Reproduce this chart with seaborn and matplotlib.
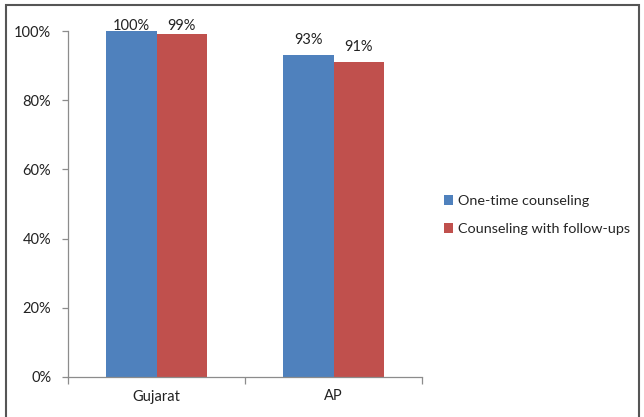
import matplotlib
matplotlib.use("Agg")
import matplotlib.pyplot as plt
import seaborn as sns
import pandas as pd
from matplotlib.patches import Rectangle
from matplotlib.ticker import FuncFormatter, FixedLocator

states = ["Gujarat", "AP"]
series = ["One-time counseling", "Counseling with follow-ups"]
one_time = [1.00, 0.93]
follow_ups = [0.99, 0.91]
colors = ["#4F81BD", "#C0504D"]

df = pd.DataFrame({
    "State": states * 2,
    "Group": [series[0]] * 2 + [series[1]] * 2,
    "Share": one_time + follow_ups,
})

sns.set_style("white")
plt.rcParams["font.family"] = ["Lato", "DejaVu Sans"]

fig = plt.figure(figsize=(6.44, 4.17), dpi=100)
ax = fig.add_axes([68 / 644, 1 - 377 / 417, (422 - 68) / 644, (377 - 31) / 417])

sns.barplot(data=df, x="State", y="Share", hue="Group", palette=colors,
            width=0.57, saturation=1, linewidth=0, ax=ax, legend=True)

# value labels above each bar, kept just inside the top of the plot area
for container in ax.containers:
    for bar in container:
        h = bar.get_height()
        ax.text(bar.get_x() + bar.get_width() / 2, min(h + 0.043, 1.0145),
                f"{round(h * 100)}%", ha="center", va="center",
                fontsize=10.5, color="#222222")

ax.set_ylim(0, 1.0)
ax.set_xlim(-0.5, 1.5)
ax.set_yticks([0, 0.2, 0.4, 0.6, 0.8, 1.0])
ax.yaxis.set_major_formatter(FuncFormatter(lambda v, _: f"{round(v * 100)}%"))
ax.set_xlabel("")
ax.set_ylabel("")

for side in ["top", "right"]:
    ax.spines[side].set_visible(False)
for side in ["left", "bottom"]:
    ax.spines[side].set_color("#8C8C8C")
    ax.spines[side].set_linewidth(0.9)

ax.tick_params(axis="y", which="major", direction="out", length=4, width=0.9,
               color="#8C8C8C", labelsize=10.5, labelcolor="#222222", pad=8, left=True)
ax.tick_params(axis="x", which="major", length=0, labelsize=10.5,
               labelcolor="#222222", pad=9)
ax.xaxis.set_minor_locator(FixedLocator([-0.5, 0.5, 1.5]))
ax.tick_params(axis="x", which="minor", direction="out", length=5, width=0.9,
               color="#8C8C8C", bottom=True)

handles, labels = ax.get_legend_handles_labels()
ax.legend(handles, labels, loc="center left", bbox_to_anchor=(440 / 644, 1 - 215 / 417),
          bbox_transform=fig.transFigure, frameon=False, fontsize=10.4,
          handlelength=0.62, handleheight=0.62, handletextpad=0.35,
          labelspacing=1.1, borderaxespad=0, borderpad=0.3)

fig.patches.append(Rectangle((6 / 644, -0.05), (639 - 6) / 644, 1 - 5 / 417 + 0.05,
                             transform=fig.transFigure, fill=False,
                             edgecolor="#555555", linewidth=1.5))

fig.savefig("out.png", dpi=100)
